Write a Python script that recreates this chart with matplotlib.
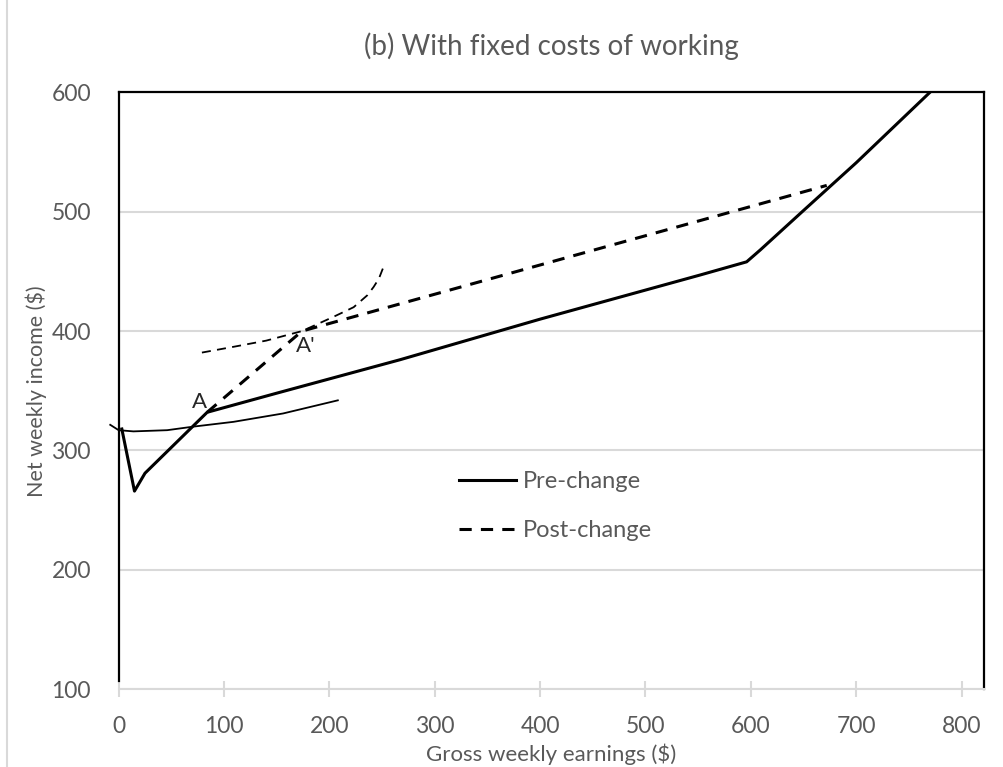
import matplotlib.pyplot as plt
from matplotlib.lines import Line2D

plt.rcParams['font.family'] = ['Lato', 'DejaVu Sans']

# Données
pre_x = [3, 15, 25, 84, 150, 267, 400, 552, 596, 609, 650, 700, 770]
pre_y = [318, 266, 281, 332, 348, 376, 410, 447, 458, 468, 501, 541, 600]

post_x = [84, 174, 672]
post_y = [332, 400, 522]

# Courbes d'indifférence
ic1_x = [-8, 0, 14, 46, 71, 109, 156, 208]
ic1_y = [321.5, 317, 316, 317, 320, 324, 331, 342]

ic2_x = [79, 110, 140, 174, 204, 223, 236, 242, 247, 251]
ic2_y = [382, 387, 392, 400, 412, 420, 430, 437, 444, 453]

x_ticks = [0, 100, 200, 300, 400, 500, 600, 700, 800]
y_ticks = [100, 200, 300, 400, 500, 600]

gris = '#595959'
gris_clair = '#d9d9d9'

fig = plt.figure(figsize=(10.04, 7.67), dpi=100)
ax = fig.add_axes([0.1182, 0.1013, 0.9798 - 0.1182, 0.8797 - 0.1013])

# Courbes principales
ax.plot(pre_x, pre_y, color='black', lw=2.2, label='Pre-change', solid_joinstyle='round')
ax.plot(post_x, post_y, color='black', lw=2.2, ls=(0, (4, 3)), label='Post-change')

# Courbes fines
ax.plot(ic1_x, ic1_y, color='black', lw=1.3, clip_on=False)
ax.plot(ic2_x, ic2_y, color='black', lw=1.3, ls=(0, (5, 3.5)))

# Points A et A'
ax.text(76.7, 341, 'A', ha='center', va='center', fontsize=16, color='#262626')
ax.text(178, 387.5, "A'", ha='center', va='center', fontsize=16, color='#262626')

# Axes et grille
ax.set_xlim(0, 821)
ax.set_ylim(100, 600)
ax.set_xticks(x_ticks)
ax.set_yticks(y_ticks)
ax.yaxis.grid(True, color=gris_clair, lw=1.5)
ax.set_axisbelow(True)
ax.tick_params(axis='x', direction='inout', length=12, width=1.5, color=gris_clair,
               labelsize=16.5, labelcolor=gris, pad=13)
ax.tick_params(axis='y', length=0, labelsize=16.5, labelcolor=gris, pad=20)

for cote in ['left', 'top', 'right']:
    ax.spines[cote].set_color('black')
    ax.spines[cote].set_linewidth(1.6)
ax.spines['left'].set_bounds(107, 600)
ax.spines['bottom'].set_color(gris_clair)
ax.spines['bottom'].set_linewidth(1.5)

ax.set_xlabel('Gross weekly earnings ($)', fontsize=16, color=gris, labelpad=5)
ax.set_ylabel('Net weekly income ($)', fontsize=15.5, color=gris, labelpad=3)
ax.set_title('(b) With fixed costs of working', fontsize=20, color=gris, pad=27)

# Légende
ax.legend(loc='upper left', bbox_to_anchor=(0.3934, 0.366), frameon=False, fontsize=17,
          handlelength=2.4, handletextpad=0.3, labelspacing=1.2, borderpad=0,
          borderaxespad=0, labelcolor=gris)

# Bordure grise à gauche
fig.add_artist(Line2D([7 / 1004, 7 / 1004], [0, 1], color=gris_clair, lw=1.5))

plt.savefig('out.png', dpi=100)
plt.close()
